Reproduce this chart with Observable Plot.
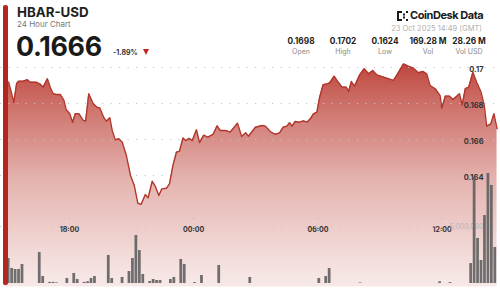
<!DOCTYPE html>
<html><head><meta charset="utf-8">
<script src="https://cdn.jsdelivr.net/npm/d3@7"></script>
<script src="https://cdn.jsdelivr.net/npm/@observablehq/plot@0.6"></script>
<style>
body{margin:0;width:500px;height:288px;overflow:hidden;background:#fff;font-family:Inter,"Noto Sans",sans-serif;position:relative}
.a{position:absolute;white-space:nowrap;line-height:1}
#bar{position:absolute;left:3px;top:5px;width:4.5px;height:280px;background:#b3261e;border-radius:2px;z-index:5}
.val{position:absolute;top:37px;width:50px;text-align:center;font-size:8.3px;font-weight:700;color:#222;line-height:1}
.lab{position:absolute;top:47.5px;width:50px;text-align:center;font-size:7px;color:#888;line-height:1}
#chart{position:absolute;left:0;top:58px;width:500px;height:230px}
#chart svg{position:absolute;left:0;top:0}
</style></head><body>
<div id="bar"></div>
<div class="a" id="sym" style="left:17px;top:6px;font-size:13.3px;font-weight:700;color:#1e1e1e"></div>
<div class="a" id="sub" style="left:17px;top:20px;font-size:8px;color:#777"></div>
<div class="a" id="last" style="left:16px;top:32.5px;font-size:26.8px;font-weight:700;color:#1a1a1a;letter-spacing:-0.3px"></div>
<div class="a" id="chg" style="left:113px;top:48.5px;font-size:7px;font-weight:700;color:#333"></div>
<div class="a" style="left:142.5px;top:49px;width:0;height:0;border-left:3.8px solid transparent;border-right:3.8px solid transparent;border-top:6px solid #c0281f"></div>
<svg class="a" style="left:397px;top:11px" width="11" height="10" viewBox="0 0 11 10">
<g fill="#1a1a1a"><rect x="0" y="0" width="2" height="10"/><rect x="2" y="0" width="3" height="2"/><rect x="2" y="8" width="3" height="2"/><rect x="6" y="2.5" width="2" height="2"/><rect x="6" y="5.5" width="2" height="2"/><rect x="9" y="0" width="2" height="2"/><rect x="9" y="8" width="2" height="2"/></g></svg>
<div class="a" id="brand" style="left:410px;top:10px;font-size:11px;font-weight:700;color:#1a1a1a;letter-spacing:-0.45px"></div>
<div class="a" id="stamp" style="right:18px;top:24.5px;font-size:7.5px;color:#b0b0b0"></div>
<div id="stats"></div>
<div id="chart"></div>
<script>
// ---- header values ----
const symbol = "HBAR-USD";
const subtitle = "24 Hour Chart";
const lastPrice = "0.1666";
const change = "-1.89%";
const brand = "CoinDesk Data";
const stamp = "23 Oct 2025 14:49 (GMT)";
const statLabels = ["Open", "High", "Low", "Vol", "Vol USD"];
const statValues = ["0.1698", "0.1702", "0.1624", "169.28 M", "28.26 M"];
const statCenters = [301, 343, 385, 428, 469];

// ---- price series (minutes after 22 Oct 2025 14:49 UTC) ----
const startTime = Date.UTC(2025, 9, 22, 14, 49);
const priceMinutes = [0,15,30,38,44,57,69,78,96,105,115,127,136,144,153,165,175,182,192,200,208,219,231,238,247,260,271,279,290,298,308,315,324,334,344,356,368,379,389,399,411,419,431,440,450,459,472,481,491,501,510,520,528,538,547,559,568,580,592,607,619,628,643,657,678,690,702,710,730,749,759,775,788,800,810,821,829,836,845,858,869,879,889,898,908,916,926,937,945,958,971,981,993,1000,1008,1017,1032,1045,1058,1070,1082,1106,1130,1142,1159,1173,1188,1202,1215,1226,1236,1251,1265,1270,1280,1292,1302,1314,1321,1329,1338,1348,1360,1371,1383,1393,1400,1412,1421,1430];
const prices = [0.16928,0.16918,0.16807,0.16911,0.16924,0.16924,0.16932,0.16918,0.16918,0.16909,0.16891,0.16937,0.16887,0.16854,0.1685,0.1685,0.16817,0.16765,0.16743,0.16696,0.16743,0.16743,0.16706,0.16702,0.16854,0.16798,0.16779,0.16776,0.16724,0.16702,0.16721,0.1665,0.16598,0.16604,0.16585,0.16511,0.164,0.16344,0.16246,0.1624,0.16294,0.16276,0.16368,0.16339,0.16289,0.16326,0.16329,0.16354,0.16456,0.16529,0.16535,0.16609,0.16594,0.16606,0.16594,0.16654,0.16583,0.16624,0.16613,0.16628,0.16676,0.1665,0.1665,0.16641,0.16691,0.16617,0.16637,0.16618,0.16668,0.16678,0.16674,0.16641,0.16629,0.16637,0.16668,0.16674,0.16693,0.16674,0.167,0.16696,0.16704,0.16696,0.16715,0.16743,0.16752,0.16835,0.16904,0.16909,0.16915,0.16952,0.16915,0.16891,0.16891,0.16867,0.16922,0.16896,0.16959,0.16993,0.16965,0.16983,0.16959,0.16944,0.16928,0.16965,0.1702,0.17007,0.16996,0.16971,0.16978,0.16965,0.169,0.16882,0.16844,0.16774,0.16841,0.16841,0.16822,0.16841,0.16854,0.16793,0.16882,0.16891,0.16974,0.16918,0.16867,0.16789,0.16674,0.16687,0.16743,0.1666];

// ---- volume (10-minute bins, start minute after 14:49) ----
const volMinutes = [10,20,30,40,50,100,110,130,140,150,180,200,210,230,240,250,260,300,310,340,360,370,380,390,400,420,430,440,450,480,490,510,520,550,570,620,710,910,930,940,1030,1260,1290,1350,1360,1370,1380,1390,1400,1410,1420];
const volumes = [2190000,1320000,1230000,1230000,1670000,2720000,610000,100000,100000,50000,440000,880000,350000,100000,150000,440000,610000,2460000,440000,530000,1050000,2190000,4210000,2890000,790000,180000,350000,260000,260000,350000,530000,2110000,1670000,80000,700000,1580000,530000,440000,610000,1320000,50000,150000,80000,1750000,9300000,3950000,2020000,5960000,9650000,8600000,3160000];

// ---- ticks ----
const yTicks = [0.17, 0.168, 0.166, 0.164];
const xTickTimes = ["2025-10-22T18:00Z", "2025-10-23T00:00Z", "2025-10-23T06:00Z", "2025-10-23T12:00Z"];
const volTicks = [5000000];

// header text
document.getElementById("sym").textContent = symbol;
document.getElementById("sub").textContent = subtitle;
document.getElementById("last").textContent = lastPrice;
document.getElementById("chg").textContent = change;
document.getElementById("brand").textContent = brand;
document.getElementById("stamp").textContent = stamp;
const stats = document.getElementById("stats");
statLabels.forEach((l, i) => {
  const v = document.createElement("div"); v.className = "val"; v.style.left = (statCenters[i] - 25) + "px"; v.textContent = statValues[i]; stats.appendChild(v);
  const b = document.createElement("div"); b.className = "lab"; b.style.left = (statCenters[i] - 25) + "px"; b.textContent = l; stats.appendChild(b);
});

const minute = 60000;
const priceData = priceMinutes.map((m, i) => ({t: new Date(startTime + m * minute), p: prices[i]}));
const volData = volMinutes.map((m, i) => ({t1: new Date(startTime + m * minute), t2: new Date(startTime + (m + 10) * minute), v: volumes[i]}));
const xTicks = xTickTimes.map(s => new Date(s));
const fmt = d3.utcFormat("%H:%M");

const xScale = {type: "utc", domain: [new Date(startTime), new Date(startTime + 1440 * minute)], range: [3, 500], axis: null};
const gridStyle = {stroke: "#c4c4c4", strokeDasharray: "1.2,7.3", strokeWidth: 1};

function gradientDefs() {
  const defs = d3.create("svg:defs");
  const g = defs.append("linearGradient").attr("id", "hbarGrad")
    .attr("gradientUnits", "userSpaceOnUse").attr("x1", 0).attr("x2", 0).attr("y1", 4).attr("y2", 228);
  [[0, 0.92], [0.17, 0.72], [0.53, 0.37], [0.93, 0.14], [1, 0.11]].forEach(([o, a]) =>
    g.append("stop").attr("offset", o).attr("stop-color", "#b8342a").attr("stop-opacity", a));
  return defs.node();
}

const pricePlot = Plot.plot({
  width: 500, height: 230, margin: 0,
  x: xScale,
  y: {domain: [0.164, 0.17], range: [117, 9], axis: null},
  style: {background: "transparent", overflow: "visible", fontFamily: "Inter, 'Noto Sans', sans-serif"},
  marks: [
    gradientDefs,
    Plot.areaY(priceData, {x: "t", y1: 0.1578, y2: "p", fill: "url(#hbarGrad)"}),
    Plot.ruleY(yTicks, gridStyle),
    Plot.lineY(priceData, {x: "t", y: "p", stroke: "#b1372c", strokeWidth: 1.4}),
    Plot.text(yTicks, {y: d => d, text: d => String(d), frameAnchor: "right", dx: -17, dy: 2, textAnchor: "end", fontSize: 7.5, fontWeight: 700, fill: "#333"}),
    Plot.dot(xTicks, {x: d => d, frameAnchor: "bottom", dy: -70, r: 0.7, fill: "#bbb"}),
    Plot.text(xTicks, {x: d => d, text: d => fmt(d), frameAnchor: "bottom", dy: -57, fontSize: 7, fontWeight: 700, fill: "#333"})
  ]
});

const volPlot = Plot.plot({
  width: 500, height: 230, margin: 0,
  x: xScale,
  y: {domain: [0, 5000000], range: [225, 168], axis: null},
  style: {background: "transparent", overflow: "visible", fontFamily: "Inter, 'Noto Sans', sans-serif"},
  marks: [
    Plot.ruleY(volTicks, gridStyle),
    Plot.text(volTicks, {y: d => d, text: d => d3.format(",")(d), frameAnchor: "right", dx: -17, textAnchor: "end", fontSize: 7, fill: "#b4b4b4"}),
    Plot.rectY(volData, {x1: "t1", x2: "t2", y1: 0, y2: "v", fill: "#5c5c5c", fillOpacity: 0.88, insetLeft: 0.35, insetRight: 0.35})
  ]
});

const chart = document.getElementById("chart");
chart.appendChild(pricePlot);
chart.appendChild(volPlot);
</script>
</body></html>
